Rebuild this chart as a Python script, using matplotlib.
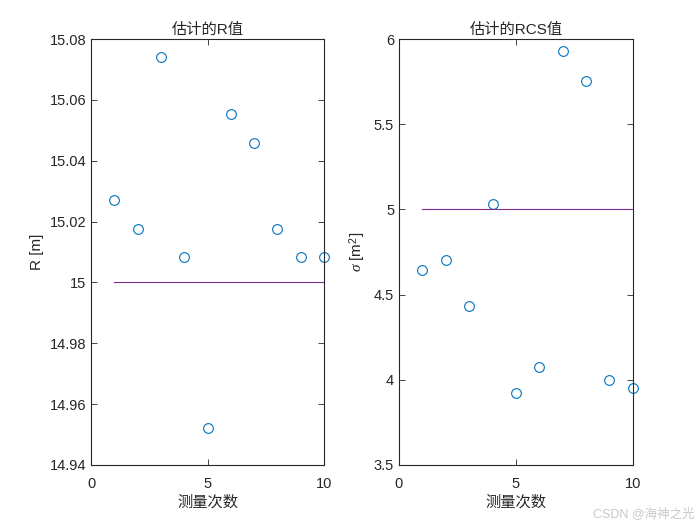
import matplotlib
matplotlib.use("Agg")
import matplotlib.pyplot as plt

plt.rcParams['font.family'] = ['Liberation Sans', 'Noto Sans CJK SC', 'DejaVu Sans']
plt.rcParams['mathtext.fontset'] = 'custom'
plt.rcParams['mathtext.rm'] = 'Liberation Sans'
plt.rcParams['mathtext.it'] = 'Liberation Serif:italic'

n = [1, 2, 3, 4, 5, 6, 7, 8, 9, 10]
R_est = [15.027, 15.0176, 15.074, 15.0084, 14.952, 15.0554, 15.0458, 15.0176, 15.0084, 15.0084]
R_true = 15.0
rcs_est = [4.644, 4.703, 4.433, 5.032, 3.923, 4.075, 5.93, 5.754, 4.0, 3.952]
rcs_true = 5.0

marker_color = (0, 0.447, 0.741)
line_color = (0.494, 0.184, 0.556)
ax_color = '#262626'

fig = plt.figure(figsize=(7, 5.25), dpi=100)
ax1 = fig.add_axes([0.13, 0.1143, 0.333, 0.8114])
ax2 = fig.add_axes([0.570, 0.1143, 0.334, 0.8114])

def style(ax):
    ax.tick_params(direction='in', top=True, right=True, labelsize=10.5, colors=ax_color, length=4, width=0.6)
    ax.tick_params(axis='x', pad=9)
    for s in ax.spines.values():
        s.set_color(ax_color)
        s.set_linewidth(0.8)

ax1.plot(n, R_est, 'o', mfc='none', mec=marker_color, ms=7, mew=0.8, clip_on=False)
ax1.plot([n[0], n[-1]], [R_true, R_true], color=line_color, lw=0.8)
ax1.set_xlim(0, 10)
ax1.set_ylim(14.94, 15.08)
ax1.set_xticks([0, 5, 10])
ax1.set_yticks([14.94, 14.96, 14.98, 15.0, 15.02, 15.04, 15.06, 15.08])
ax1.set_yticklabels(['14.94', '14.96', '14.98', '15', '15.02', '15.04', '15.06', '15.08'])
ax1.set_xlabel('测量次数', fontsize=11, color=ax_color, labelpad=3)
ax1.set_ylabel('R [m]', fontsize=11, color=ax_color)
ax1.set_title('估计的R值', fontsize=11, color=ax_color, pad=4)
style(ax1)

ax2.plot(n, rcs_est, 'o', mfc='none', mec=marker_color, ms=7, mew=0.8, clip_on=False)
ax2.plot([n[0], n[-1]], [rcs_true, rcs_true], color=line_color, lw=0.8)
ax2.set_xlim(0, 10)
ax2.set_ylim(3.5, 6)
ax2.set_xticks([0, 5, 10])
ax2.set_yticks([3.5, 4, 4.5, 5, 5.5, 6])
ax2.set_yticklabels(['3.5', '4', '4.5', '5', '5.5', '6'])
ax2.set_xlabel('测量次数', fontsize=11, color=ax_color, labelpad=3)
ax2.set_ylabel(r'$\mathit{\sigma}$ [m$^2$]', fontsize=11, color=ax_color)
ax2.set_title('估计的RCS值', fontsize=11, color=ax_color, pad=4)
style(ax2)

fig.text(0.993, 0.01, 'CSDN @海神之光', ha='right', va='bottom', fontsize=9, color='#c8c8c8')

fig.savefig('out.png', dpi=100, facecolor='white')
